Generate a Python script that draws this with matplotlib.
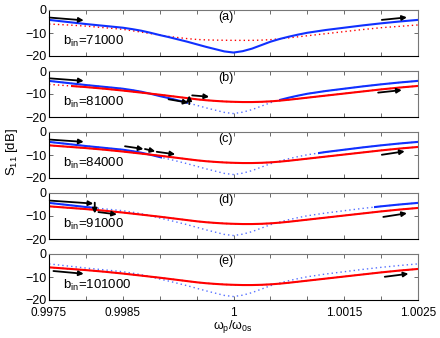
import matplotlib
matplotlib.use("Agg")
import matplotlib.pyplot as plt
from matplotlib.patches import Rectangle

plt.rcParams['font.family'] = ['Liberation Sans', 'DejaVu Sans']
plt.rcParams['mathtext.fontset'] = 'custom'
plt.rcParams['mathtext.rm'] = 'Liberation Sans'
plt.rcParams['mathtext.it'] = 'Liberation Sans:italic'

# detuning grid (omega_p / omega_0s), step 0.000125
omega = [0.9975 + 0.000125 * k for k in range(41)]

# S11 [dB] curves
s11_blue = [-4.3, -4.75, -5.2, -5.65, -6.1, -6.5, -6.9, -7.3, -7.7, -8.3,
            -9.0, -9.9, -10.9, -11.8, -12.8, -13.8, -14.9, -16.0, -17.0, -18.0,
            -18.5, -17.9, -16.8, -15.3, -13.8, -12.6, -11.6, -10.7, -9.9, -9.3,
            -8.7, -8.2, -7.7, -7.2, -6.7, -6.25, -5.8, -5.4, -5.0, -4.65, -4.3]
s11_red_a = [-6.1, -6.3, -6.5, -6.75, -7.0, -7.35, -7.7, -8.05, -8.4, -9.0,
             -9.6, -10.25, -10.9, -11.5, -12.0, -12.45, -12.8, -13.0, -13.1, -13.15,
             -13.2, -13.2, -13.2, -13.1, -12.9, -12.5, -12.1, -11.65, -11.2, -10.75,
             -10.3, -9.85, -9.4, -8.95, -8.5, -8.1, -7.7, -7.4, -7.1, -6.8, -6.5]
s11_red = [-5.8, -6.1, -6.4, -6.7, -7.0, -7.35, -7.7, -8.1, -8.5, -8.95,
           -9.4, -9.85, -10.3, -10.8, -11.3, -11.8, -12.3, -12.7, -13.0, -13.25,
           -13.4, -13.5, -13.5, -13.4, -13.2, -12.9, -12.5, -12.05, -11.6, -11.15,
           -10.7, -10.25, -9.8, -9.35, -8.9, -8.45, -8.0, -7.6, -7.2, -6.85, -6.5]

panels = ['(a)', '(b)', '(c)', '(d)', '(e)']
b_in = ['71000', '81000', '84000', '91000', '101000']

# omega ranges where the blue branch is drawn solid
blue_solid = [
    [(0.9975, 1.0025)],
    [(0.9975, 0.99939), (1.00061, 1.0025)],
    [(0.9975, 0.99903), (1.00115, 1.0025)],
    [(0.9975, 0.99812), (1.00190, 1.0025)],
    [],
]
# omega ranges where the red branch is drawn solid
red_solid = [
    [],
    [(0.9978, 1.0025)],
    [(0.9975, 1.0025)],
    [(0.9975, 1.0025)],
    [(0.9975, 1.0025)],
]

# sweep-direction arrows (x0, y0, x1, y1) in data units
arrows = [
    [(0.99751, -3.3, 0.99797, -4.5), (1.00201, -4.3, 1.00235, -3.2)],
    [(0.99751, -3.2, 0.99797, -4.3), (0.99912, -12.3, 0.99939, -13.8),
     (0.99940, -14.4, 0.99940, -10.6), (0.99944, -10.6, 0.99967, -11.2),
     (1.00196, -9.4, 1.00228, -8.3)],
    [(0.99751, -3.3, 0.99797, -4.3), (0.99853, -6.2, 0.99878, -7.4),
     (0.99880, -7.4, 0.99894, -8.4), (0.99896, -8.6, 0.99921, -9.7),
     (1.00201, -9.9, 1.00232, -8.4)],
    [(0.99751, -3.3, 0.99810, -4.6), (0.99812, -4.2, 0.99812, -8.9),
     (0.99817, -8.3, 0.99842, -9.3), (1.00203, -10.4, 1.00235, -8.8)],
    [(0.99756, -7.4, 0.99797, -8.6), (1.00205, -9.9, 1.00237, -8.6)],
]

xticks = [0.9975 + 0.0005 * i for i in range(11)]
xlabels = {0: '0.9975', 2: '0.9985', 5: '1', 8: '1.0015', 10: '1.0025'}

W, H = 440, 338
fig = plt.figure(figsize=(W / 100, H / 100), dpi=100)

for i in range(5):
    top = 10 + 61 * i
    ax = fig.add_axes([49 / W, 1 - (top + 46) / H, 369 / W, 46 / H])

    if i == 0:
        ax.plot(omega, s11_red_a, color='r', lw=1.0, ls=(0, (1, 2.2)))
        ax.plot(omega, s11_blue, color='#1030ff', lw=1.5)
    else:
        ax.plot(omega, s11_blue, color='#5570ff', lw=1.0, ls=(0, (1, 2.2)))
        for a, b in blue_solid[i]:
            l = ax.plot(omega, s11_blue, color='#1030ff', lw=1.5)[0]
            l.set_clip_path(Rectangle((a, -40), b - a, 60, transform=ax.transData))
        ax.plot(omega, s11_red, color='r', lw=1.0, ls=(0, (1, 2.2)))
        for a, b in red_solid[i]:
            l = ax.plot(omega, s11_red, color='r', lw=1.5)[0]
            l.set_clip_path(Rectangle((a, -40), b - a, 60, transform=ax.transData))

    for x0, y0, x1, y1 in arrows[i]:
        ax.annotate('', xy=(x1, y1), xytext=(x0, y0),
                    arrowprops=dict(arrowstyle='-|>', color='k', lw=1.3,
                                    mutation_scale=7, shrinkA=0, shrinkB=0))

    ax.text(0.99989, -3.0, panels[i], ha='center', va='center', fontsize=9)
    ax.text(0.99769, -13.6, 'b$_{\\mathregular{in}}$=' + b_in[i], ha='left', va='center', fontsize=9.5)

    ax.set_xlim(0.9975, 1.0025)
    ax.set_ylim(-20, 0)
    ax.set_yticks([0, -10, -20])
    ax.set_yticklabels(['0', '\u221210', '\u221220'])
    ax.set_xticks(xticks)
    if i == 4:
        ax.set_xticklabels([xlabels.get(k, '') for k in range(11)])
    else:
        ax.set_xticklabels([])
    ax.tick_params(direction='in', length=3, width=0.6, top=True, right=True,
                   labelsize=9, pad=2, colors='#555555', labelcolor='k')
    ax.tick_params(axis='x', pad=5, labelsize=8.5)
    for side, sp in ax.spines.items():
        sp.set_linewidth(0.8)
        sp.set_color('k' if side in ('bottom', 'left') else '#777777')

fig.text(12 / W, 1 - 152 / H, 'S$_{\\mathregular{11}}$ [dB]', rotation=90,
         ha='center', va='center', fontsize=9.5)
fig.text(233 / W, 1 - 318 / H, '\u03c9$_{\\mathregular{p}}$/\u03c9$_{\\mathregular{0s}}$',
         ha='center', va='top', fontsize=9)

fig.savefig('out.png', dpi=100)
